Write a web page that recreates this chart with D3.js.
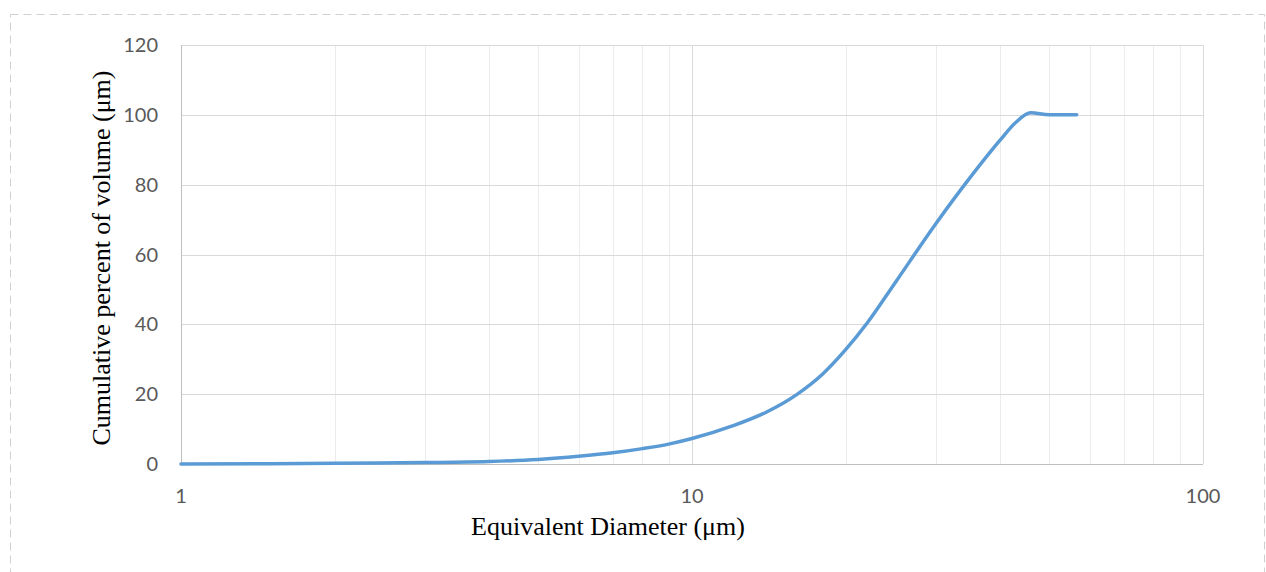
<!DOCTYPE html>
<html><head><meta charset="utf-8">
<script src="https://cdn.jsdelivr.net/npm/d3@7"></script>
<style>body{margin:0;background:#fff;}svg{display:block;}</style>
</head><body>
<svg id="c" width="1266" height="572"></svg>
<script>
const diameters = [1, 1.5, 2, 3, 4, 5, 6, 7, 8, 9, 10, 12, 14, 16, 18, 20, 22, 25, 30, 35, 40, 43, 46, 50, 56.6];
const cumulative = [0, 0.1, 0.2, 0.4, 0.7, 1.3, 2.2, 3.2, 4.4, 5.7, 7.3, 10.9, 14.9, 19.8, 25.7, 32.8, 40.3, 52.0, 68.8, 82.0, 92.6, 97.8, 100.6, 100, 100];
const xTicks = [1, 10, 100];
const yTicks = [0, 20, 40, 60, 80, 100, 120];
const xTitle = "Equivalent Diameter (μm)";
const yTitle = "Cumulative percent of volume (μm)";

const svg = d3.select("#c");
const L = 181, R = 1203, T = 45, B = 464;
const x = d3.scaleLog().domain([1, 100]).range([L, R]);
const y = d3.scaleLinear().domain([0, 120]).range([B, T]);

// outer dashed border
svg.append("rect").attr("x", 10.5).attr("y", 14.5).attr("width", 1254).attr("height", 600)
  .attr("fill", "none").attr("stroke", "#d0d0d0").attr("stroke-dasharray", "8,5");

// minor vertical grid
const minor = [];
for (let dec = 1; dec < 100; dec *= 10) for (let k = 2; k <= 9; k++) minor.push(dec * k);
svg.append("g").selectAll("line").data(minor).join("line")
  .attr("x1", d => Math.round(x(d)) + 0.5).attr("x2", d => Math.round(x(d)) + 0.5)
  .attr("y1", T).attr("y2", B).attr("stroke", "#ececec").attr("stroke-width", 1);

// major vertical grid
svg.append("g").selectAll("line").data(xTicks).join("line")
  .attr("x1", d => Math.round(x(d)) + 0.5).attr("x2", d => Math.round(x(d)) + 0.5)
  .attr("y1", T).attr("y2", B).attr("stroke", "#d9d9d9").attr("stroke-width", 1);

// horizontal grid
svg.append("g").selectAll("line").data(yTicks).join("line")
  .attr("x1", L).attr("x2", R)
  .attr("y1", d => Math.round(y(d)) + 0.5).attr("y2", d => Math.round(y(d)) + 0.5)
  .attr("stroke", "#d9d9d9").attr("stroke-width", 1);

// axis lines
svg.append("line").attr("x1", L + 0.5).attr("x2", L + 0.5).attr("y1", T).attr("y2", B + 1)
  .attr("stroke", "#bfbfbf");
svg.append("line").attr("x1", L).attr("x2", R).attr("y1", B + 0.5).attr("y2", B + 0.5)
  .attr("stroke", "#bfbfbf");

// tick labels
const tickFont = "Lato, 'Open Sans', sans-serif";
svg.append("g").selectAll("text").data(yTicks).join("text")
  .attr("x", 158).attr("y", d => y(d)).attr("dy", "0.35em").attr("text-anchor", "end")
  .attr("font-family", tickFont).attr("font-size", 20).attr("fill", "#595959").text(d => d);
svg.append("g").selectAll("text").data(xTicks).join("text")
  .attr("x", d => x(d)).attr("y", 503).attr("text-anchor", "middle")
  .attr("font-family", tickFont).attr("font-size", 20).attr("fill", "#595959").text(d => d);

// titles
const titleFont = "'Liberation Serif', 'Times New Roman', serif";
svg.append("text").attr("x", 608).attr("y", 535).attr("text-anchor", "middle")
  .attr("font-family", titleFont).attr("font-size", 26)
  .attr("fill", "#000").text(xTitle);
svg.append("text").attr("transform", "translate(110,258) rotate(-90)").attr("text-anchor", "middle")
  .attr("font-family", titleFont).attr("font-size", 26)
  .attr("fill", "#000").text(yTitle);

// curve
const pts = diameters.map((d, i) => [d, cumulative[i]]);
const line = d3.line().x(d => x(d[0])).y(d => y(d[1])).curve(d3.curveMonotoneX);
svg.append("path").datum(pts).attr("d", line).attr("fill", "none")
  .attr("stroke", "#5b9bd5").attr("stroke-width", 3.5).attr("stroke-linecap", "round")
  .attr("stroke-linejoin", "round");
</script>
</body></html>
